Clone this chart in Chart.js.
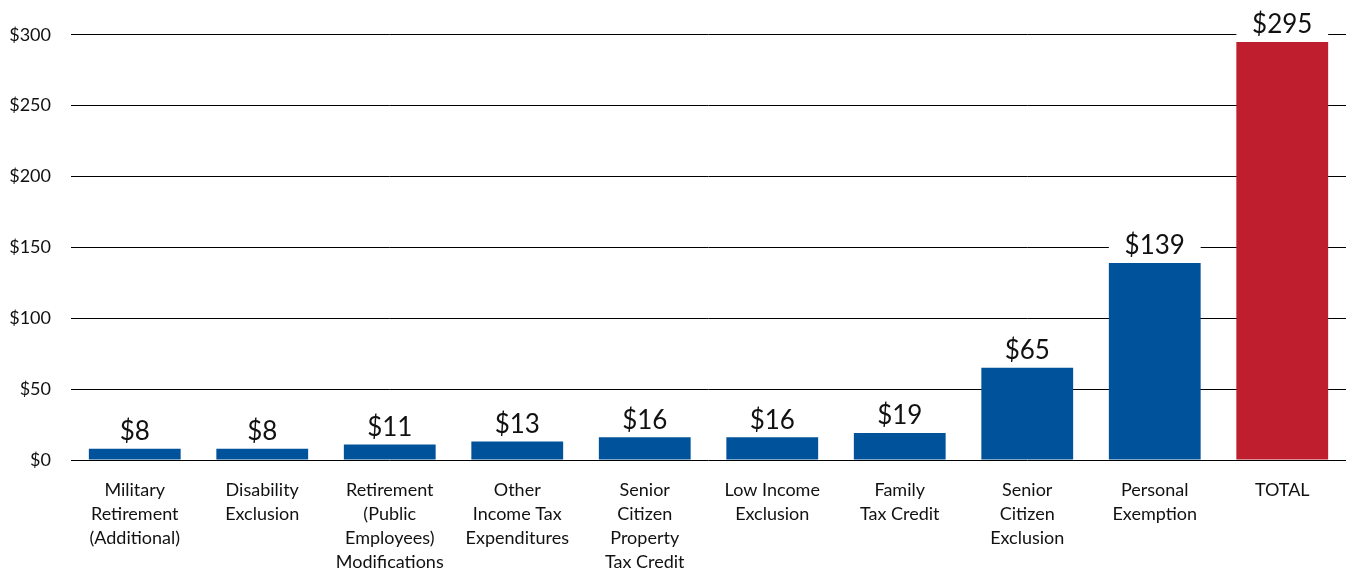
<!DOCTYPE html>
<html>
<head>
<meta charset="utf-8">
<script src="https://cdn.jsdelivr.net/npm/chart.js@4"></script>
<style>
  html, body { margin: 0; padding: 0; background: #fff; }
  #wrap { width: 1349px; height: 568px; padding-top: 4px; }
</style>
</head>
<body>
<div id="wrap"><canvas id="chart"></canvas></div>
<script>
// data (millions of dollars)
const categories = [
  ['Military', 'Retirement', '(Additional)'],
  ['Disability', 'Exclusion'],
  ['Retirement', '(Public', 'Employees)', 'Modifications'],
  ['Other', 'Income Tax', 'Expenditures'],
  ['Senior', 'Citizen', 'Property', 'Tax Credit'],
  ['Low Income', 'Exclusion'],
  ['Family', 'Tax Credit'],
  ['Senior', 'Citizen', 'Exclusion'],
  ['Personal', 'Exemption'],
  ['TOTAL']
];
const values = [8, 8, 11, 13, 16, 16, 19, 65, 139, 295];
const barColors = ['#00529b', '#00529b', '#00529b', '#00529b', '#00529b',
  '#00529b', '#00529b', '#00529b', '#00529b', '#be1e2d'];

const fontFamily = 'Lato, "Open Sans", sans-serif';

// value labels sitting on a white box the width of the bar (cuts the gridlines)
const valueLabels = {
  id: 'valueLabels',
  afterDatasetsDraw(chart) {
    const ctx = chart.ctx;
    const meta = chart.getDatasetMeta(0);
    ctx.save();
    ctx.font = '26px ' + fontFamily;
    ctx.textAlign = 'center';
    ctx.textBaseline = 'middle';
    meta.data.forEach((bar, i) => {
      const w = bar.width;
      const top = bar.y - 34;
      ctx.fillStyle = '#fff';
      ctx.fillRect(bar.x - w / 2, top, w, 32);
      ctx.fillStyle = '#111';
      ctx.fillText('$' + values[i], bar.x, bar.y - 17);
    });
    ctx.restore();
  }
};

new Chart(document.getElementById('chart'), {
  type: 'bar',
  data: {
    labels: categories,
    datasets: [{
      data: values,
      backgroundColor: barColors,
      categoryPercentage: 0.72,
      barPercentage: 1
    }]
  },
  options: {
    responsive: true,
    maintainAspectRatio: false,
    animation: false,
    layout: { padding: { top: 26, right: 3 } },
    plugins: {
      legend: { display: false },
      tooltip: { enabled: false }
    },
    scales: {
      x: {
        grid: { display: false },
        border: { display: false },
        ticks: {
          color: '#111',
          font: { family: fontFamily, size: 18, lineHeight: 1.33 },
          maxRotation: 0,
          autoSkip: false,
          padding: 10
        },
        afterFit(scale) { scale.height = 112; }
      },
      y: {
        min: 0,
        max: 300,
        ticks: {
          stepSize: 50,
          color: '#111',
          padding: 20,
          font: { family: fontFamily, size: 18 },
          callback: v => '$' + v
        },
        grid: { color: '#000', lineWidth: 1, drawTicks: false },
        border: { display: false },
        afterFit(scale) { scale.width = 71; }
      }
    }
  },
  plugins: [valueLabels]
});
</script>
</body>
</html>
